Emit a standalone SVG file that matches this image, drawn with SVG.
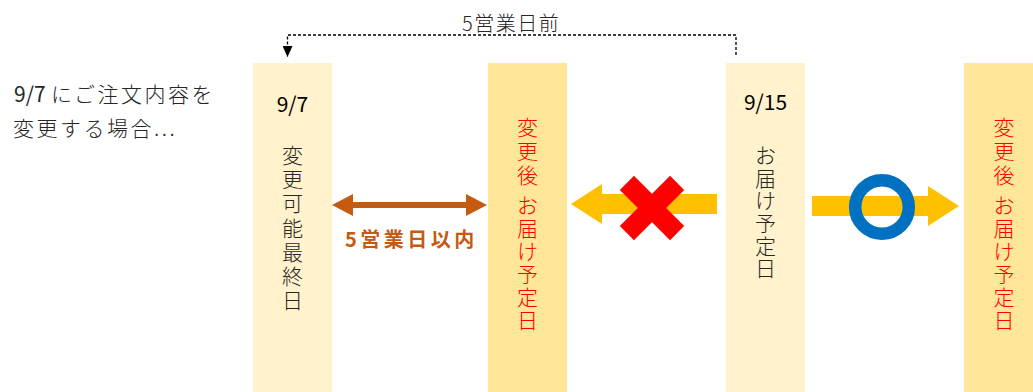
<svg xmlns="http://www.w3.org/2000/svg" width="1033" height="392" viewBox="0 0 1033 392">
<style>
text{font-family:"Noto Sans CJK JP","Noto Sans",sans-serif;}
.light{fill:#FFF2CC;}
.dark{fill:#FFE699;}
.date{font-size:21px;fill:#000;text-anchor:middle;}
.vt{font-size:21px;font-weight:300;fill:#262626;text-anchor:middle;}
.vr{font-size:21px;font-weight:300;fill:#FF0000;text-anchor:middle;}
.note{font-size:21px;fill:#262626;font-weight:300;}
.yel{fill:#FFC000;}
</style>
<defs>
<marker id="tri" viewBox="0 0 10 10" refX="10" refY="5" markerWidth="11" markerHeight="10" preserveAspectRatio="none" markerUnits="userSpaceOnUse" orient="auto">
<path d="M0,0 L10,5 L0,10 Z" fill="#000"/>
</marker>
</defs>
<rect width="1033" height="392" fill="#fff"/>

<g id="intro">
<text class="note" x="14" y="102"><tspan font-weight="400">9/7</tspan><tspan x="51" letter-spacing="2.5">にご注文内容を</tspan></text>
<text class="note" x="13" y="136" letter-spacing="2.5">変更する場合...</text>
</g>

<g id="box-97">
<rect class="light" x="253" y="63" width="79" height="329"/>
<text class="date" x="292.5" y="112">9/7</text>
<text class="vt"><tspan x="292.5" y="163">変</tspan><tspan x="292.5" y="187">更</tspan><tspan x="292.5" y="211">可</tspan><tspan x="292.5" y="236">能</tspan><tspan x="292.5" y="260">最</tspan><tspan x="292.5" y="284">終</tspan><tspan x="292.5" y="308">日</tspan></text>
</g>

<g id="box-new1">
<rect class="dark" x="488" y="63" width="79" height="329"/>
<text class="vr"><tspan x="527.5" y="135">変</tspan><tspan x="527.5" y="159">更</tspan><tspan x="527.5" y="183">後</tspan><tspan x="527.5" y="213">お</tspan><tspan x="527.5" y="236">届</tspan><tspan x="527.5" y="259">け</tspan><tspan x="527.5" y="282">予</tspan><tspan x="527.5" y="305">定</tspan><tspan x="527.5" y="328">日</tspan></text>
</g>

<g id="box-915">
<rect class="light" x="726" y="63" width="79" height="329"/>
<text class="date" x="765.5" y="110">9/15</text>
<text class="vt"><tspan x="765.5" y="163">お</tspan><tspan x="765.5" y="186">届</tspan><tspan x="765.5" y="208">け</tspan><tspan x="765.5" y="231">予</tspan><tspan x="765.5" y="254">定</tspan><tspan x="765.5" y="276">日</tspan></text>
</g>

<g id="box-new2">
<rect class="dark" x="964" y="63" width="80" height="329"/>
<text class="vr"><tspan x="1004" y="135">変</tspan><tspan x="1004" y="159">更</tspan><tspan x="1004" y="183">後</tspan><tspan x="1004" y="213">お</tspan><tspan x="1004" y="236">届</tspan><tspan x="1004" y="259">け</tspan><tspan x="1004" y="282">予</tspan><tspan x="1004" y="305">定</tspan><tspan x="1004" y="328">日</tspan></text>
</g>

<g id="connectors">
<path d="M736,55 V35 H287.5 V57" fill="none" stroke="#000" stroke-width="1.3" stroke-dasharray="3,2" marker-end="url(#tri)"/>
<text x="462" y="31" font-size="20" font-weight="300" fill="#262626" letter-spacing="1.5">5営業日前</text>
<polygon fill="#C55A11" points="332,205 353,194 353,202 466,202 466,194 487,205 466,216 466,208 353,208 353,216"/>
<text x="345" y="247" font-size="20" font-weight="bold" fill="#C55A11" letter-spacing="3.5">5営業日以内</text>
<polygon class="yel" points="571,204 602,184 602,194 717,194 717,214 602,214 602,224"/>
<polygon class="yel" points="812,196 928,196 928,186 959,206 928,226 928,216 812,216"/>
</g>

<g id="mark-ng" fill="#FF0000">
<rect x="-35.5" y="-10" width="71" height="20" transform="translate(652,208) rotate(45)"/>
<rect x="-35.5" y="-10" width="71" height="20" transform="translate(652,208) rotate(-45)"/>
</g>

<g id="mark-ok">
<circle cx="882" cy="207" r="26.8" fill="none" stroke="#0070C0" stroke-width="12.5"/>
</g>
</svg>
